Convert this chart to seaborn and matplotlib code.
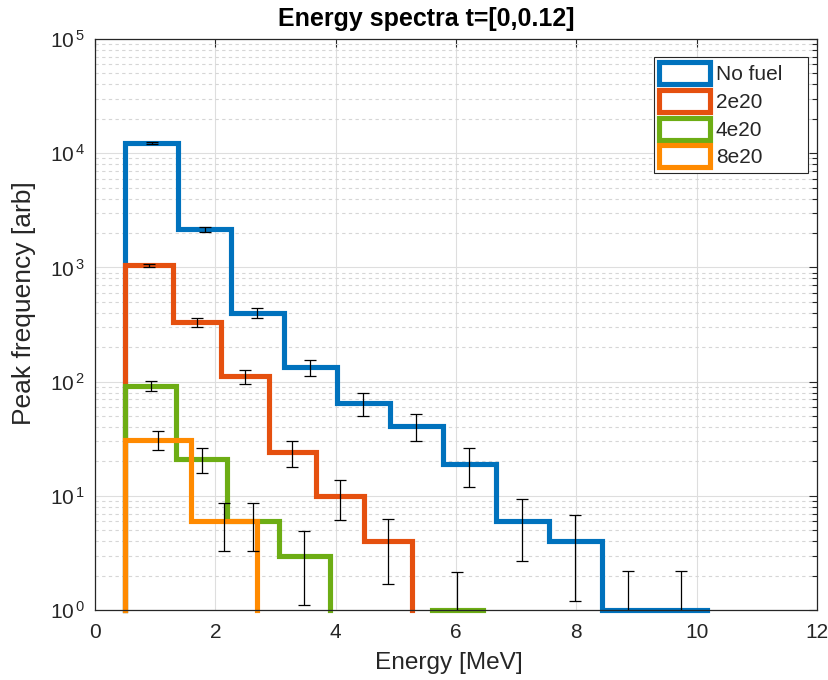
import numpy as np
import matplotlib
matplotlib.use("Agg")
import matplotlib.pyplot as plt
from matplotlib.patches import Patch
from matplotlib.ticker import LogLocator, FixedLocator, FixedFormatter, NullFormatter
import seaborn as sns

# ---------------- data ----------------
series_names = ["No fuel", "2e20", "4e20", "8e20"]
series_colors = ["#0072BD", "#E5500F", "#6DAD14", "#FF8A00"]

nofuel_edges = [0.5, 1.38, 2.26, 3.14, 4.02, 4.90, 5.78, 6.66, 7.54, 8.42, 9.30, 10.18]
nofuel_counts = [12400, 2150, 400, 133, 65, 41, 19, 6, 4, 1, 1]
nofuel_err = [250, 100, 40, 22, 15, 11, 7, 3.3, 2.8, 1.2, 1.2]

e2_edges = [0.5, 1.295, 2.09, 2.885, 3.68, 4.475, 5.27]
e2_counts = [1040, 330, 111, 24, 10, 4]
e2_err = [35, 28, 15, 6, 3.8, 2.3]

e4_edges = [0.5, 1.35, 2.2, 3.05, 3.9, 4.75, 5.6, 6.45]
e4_counts = [92, 21, 6, 3, 0, 0, 1]
e4_err = [9, 5, 2.7, 1.9, 0, 0, 1.15]

e8_edges = [0.5, 1.6, 2.7]
e8_counts = [31, 6]
e8_err = [6, 2.7]

x_ticks = [0, 2, 4, 6, 8, 10, 12]
y_ticks = [1, 10, 100, 1000, 10000, 100000]
y_tick_labels = [r"$\mathdefault{10^{\,%d}}$" % k for k in range(6)]

title = "Energy spectra t=[0,0.12]"
xlabel = "Energy [MeV]"
ylabel = "Peak frequency [arb]"

# ---------------- style ----------------
sns.set_style("white")
plt.rcParams["font.family"] = ["Liberation Sans", "DejaVu Sans"]
plt.rcParams["text.color"] = "#262626"

fig = plt.figure(figsize=(8.29, 6.80), dpi=100)
ax = fig.add_axes([0.1146, 0.1029, 0.8709, 0.8397])
ax.set_yscale("log", nonpositive="clip")
ax.set_xlim(0, 12)
ax.set_ylim(1, 1e5)

def step_segments(edges, counts):
    segs = []
    cur = [(edges[0], 1.0)]
    for i, c in enumerate(counts):
        if c > 0:
            cur += [(edges[i], c), (edges[i + 1], c)]
        else:
            cur.append((edges[i], 1.0))
            segs.append(cur)
            cur = [(edges[i + 1], 1.0)]
    cur.append((edges[-1], 1.0))
    segs.append(cur)
    return [s for s in segs if len(set(s)) > 1]

all_series = [
    (nofuel_edges, nofuel_counts, nofuel_err),
    (e2_edges, e2_counts, e2_err),
    (e4_edges, e4_counts, e4_err),
    (e8_edges, e8_counts, e8_err),
]

LW = 3.7
for k, (edges, counts, err) in enumerate(all_series):
    col = series_colors[k]
    for seg in step_segments(edges, counts):
        xs = [p[0] for p in seg]
        ys = [p[1] for p in seg]
        sns.lineplot(x=xs, y=ys, sort=False, estimator=None, color=col, lw=LW,
                     ax=ax, legend=False, clip_on=False, zorder=2 + k * 0.1,
                     solid_joinstyle="miter", solid_capstyle="projecting")

for k, (edges, counts, err) in enumerate(all_series):
    e = np.asarray(edges)
    c = np.asarray(counts, dtype=float)
    r = np.asarray(err, dtype=float)
    centers = (e[:-1] + e[1:]) / 2
    m = c > 0
    ax.errorbar(centers[m], c[m], yerr=r[m], fmt="none", ecolor="black",
                elinewidth=0.9, capsize=4.3, capthick=0.9, zorder=5)

# ---------------- axes ----------------
ax.xaxis.set_major_locator(FixedLocator(x_ticks))
ax.set_xticklabels([str(t) for t in x_ticks])
ax.yaxis.set_major_locator(FixedLocator(y_ticks))
ax.yaxis.set_major_formatter(FixedFormatter(y_tick_labels))
ax.yaxis.set_minor_locator(LogLocator(base=10, subs=np.arange(2, 10), numticks=20))
ax.yaxis.set_minor_formatter(NullFormatter())

ax.tick_params(which="both", direction="in", top=True, right=True,
               colors="#262626", labelsize=15, width=0.8)
ax.tick_params(which="major", length=6, pad=7)
ax.tick_params(which="minor", length=3.5)
ax.tick_params(axis="x", pad=9)

for sp in ax.spines.values():
    sp.set_color("#262626")
    sp.set_linewidth(0.9)

ax.grid(which="major", axis="both", color="#dedede", lw=0.8, ls="-", zorder=0)
ax.grid(which="minor", axis="y", color="#d6d6d6", lw=0.8, ls=(0, (3, 3)), zorder=0)
ax.set_axisbelow(True)

ax.set_title(title, fontsize=18, fontweight="bold", color="black", pad=9.4, x=0.459)
ax.set_xlabel(xlabel, fontsize=17.6, color="#262626")
ax.set_ylabel(ylabel, fontsize=19, color="#262626")
ax.xaxis.set_label_coords(0.49, -0.0736)
ax.yaxis.set_label_coords(-0.082, 0.537)

handles = [Patch(facecolor="white", edgecolor=c, linewidth=LW) for c in series_colors]
leg = ax.legend(handles, series_names, loc="upper left",
                bbox_to_anchor=(0.7742, 0.7566, 0.2133, 0.2119), mode="expand",
                borderaxespad=0, fontsize=15, handlelength=2.45, handleheight=1.244,
                handletextpad=0.26, labelspacing=0.27, borderpad=0.26,
                fancybox=False, framealpha=1, edgecolor="#262626")
leg.get_frame().set_linewidth(0.8)

fig.savefig("out.png", dpi=100)
